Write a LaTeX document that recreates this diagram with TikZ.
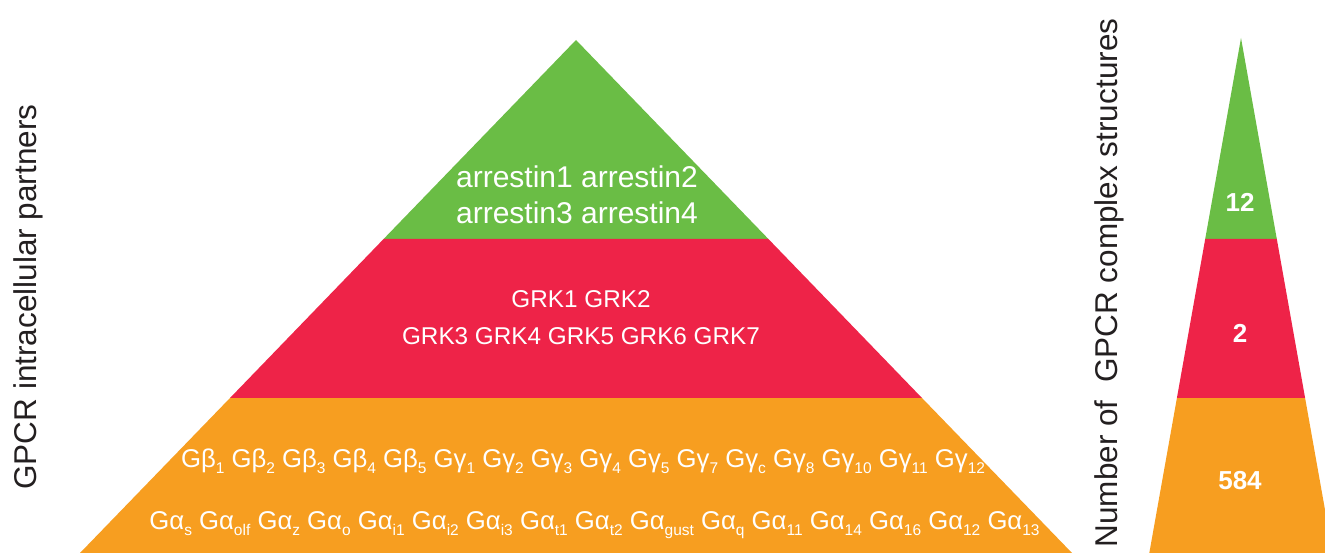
\documentclass[tikz,border=0pt]{standalone}
\usepackage{fontspec}
\setmainfont{Liberation Sans}
\usepackage{xcolor}
\definecolor{tipgreen}{RGB}{106,189,69}
\definecolor{midred}{RGB}{238,35,72}
\definecolor{baseorange}{RGB}{247,158,32}
\definecolor{labelgray}{RGB}{35,31,32}
\newcommand{\sbs}[1]{\raisebox{-6pt}{\fontsize{15.5}{15.5}\selectfont #1}}

\begin{document}
\begin{tikzpicture}[x=1pt, y=-1pt, every node/.style={inner sep=0pt, text=white, align=center},
  tiertext/.style={font=\fontsize{30}{36}\selectfont},
  grktext/.style={font=\fontsize{24.3}{37}\selectfont},
  gtext/.style={font=\fontsize{25.7}{30}\selectfont, anchor=base},
  counttext/.style={font=\fontsize{26}{30}\selectfont\bfseries},
  axistext/.style={font=\fontsize{31.5}{36}\selectfont, text=labelgray, rotate=90}]
\useasboundingbox (0,0) rectangle (1325,553);
\clip (0,0) rectangle (1325,553);
% Pyramid corners
\coordinate (top) at (576,40);
\coordinate (gl) at (383.6,239); \coordinate (gr) at (768.4,239);
\coordinate (rl) at (230,398); \coordinate (rr) at (922,398);
\coordinate (bl) at (80,553); \coordinate (br) at (1072,553);
\coordinate (stop) at (1241,38);
\coordinate (sgl) at (1205.2,239); \coordinate (sgr) at (1276.8,239);
\coordinate (srl) at (1176.9,398); \coordinate (srr) at (1305.1,398);
\coordinate (sbl) at (1149.3,553); \coordinate (sbr) at (1332.7,553);
% Bands
\fill[tipgreen] (top) -- (gr) -- (gl) -- cycle;
\fill[midred] (gl) -- (gr) -- (rr) -- (rl) -- cycle;
\fill[baseorange] (rl) -- (rr) -- (br) -- (bl) -- cycle;
\fill[tipgreen] (stop) -- (sgr) -- (sgl) -- cycle;
\fill[midred] (sgl) -- (sgr) -- (srr) -- (srl) -- cycle;
\fill[baseorange] (srl) -- (srr) -- (sbr) -- (sbl) -- cycle;
% Nodes
\node[tiertext] (arr) at (577,195) {arrestin1 arrestin2\\arrestin3 arrestin4};
\node[grktext] (grk) at (581,318) {GRK1 GRK2\\GRK3 GRK4 GRK5 GRK6 GRK7};
\node[gtext] (gbg) at (583,467) {Gβ\sbs{1} Gβ\sbs{2} Gβ\sbs{3} Gβ\sbs{4} Gβ\sbs{5} Gγ\sbs{1} Gγ\sbs{2} Gγ\sbs{3} Gγ\sbs{4} Gγ\sbs{5} Gγ\sbs{7} Gγ\sbs{c} Gγ\sbs{8} Gγ\sbs{10} Gγ\sbs{11} Gγ\sbs{12}};
\node[gtext] (ga) at (594.5,529) {Gα\sbs{s} Gα\sbs{olf} Gα\sbs{z} Gα\sbs{o} Gα\sbs{i1} Gα\sbs{i2} Gα\sbs{i3} Gα\sbs{t1} Gα\sbs{t2} Gα\sbs{gust} Gα\sbs{q} Gα\sbs{11} Gα\sbs{14} Gα\sbs{16} Gα\sbs{12} Gα\sbs{13}};
\node[counttext] (n12) at (1240,202) {12};
\node[counttext] (n2) at (1240,333) {2};
\node[counttext] (n584) at (1240,481) {584};
\node[axistext] (partners) at (28,297) {GPCR intracellular partners};
\node[axistext] (structures) at (1109,283) {Number of\ \ GPCR complex structures};
\end{tikzpicture}
\end{document}
